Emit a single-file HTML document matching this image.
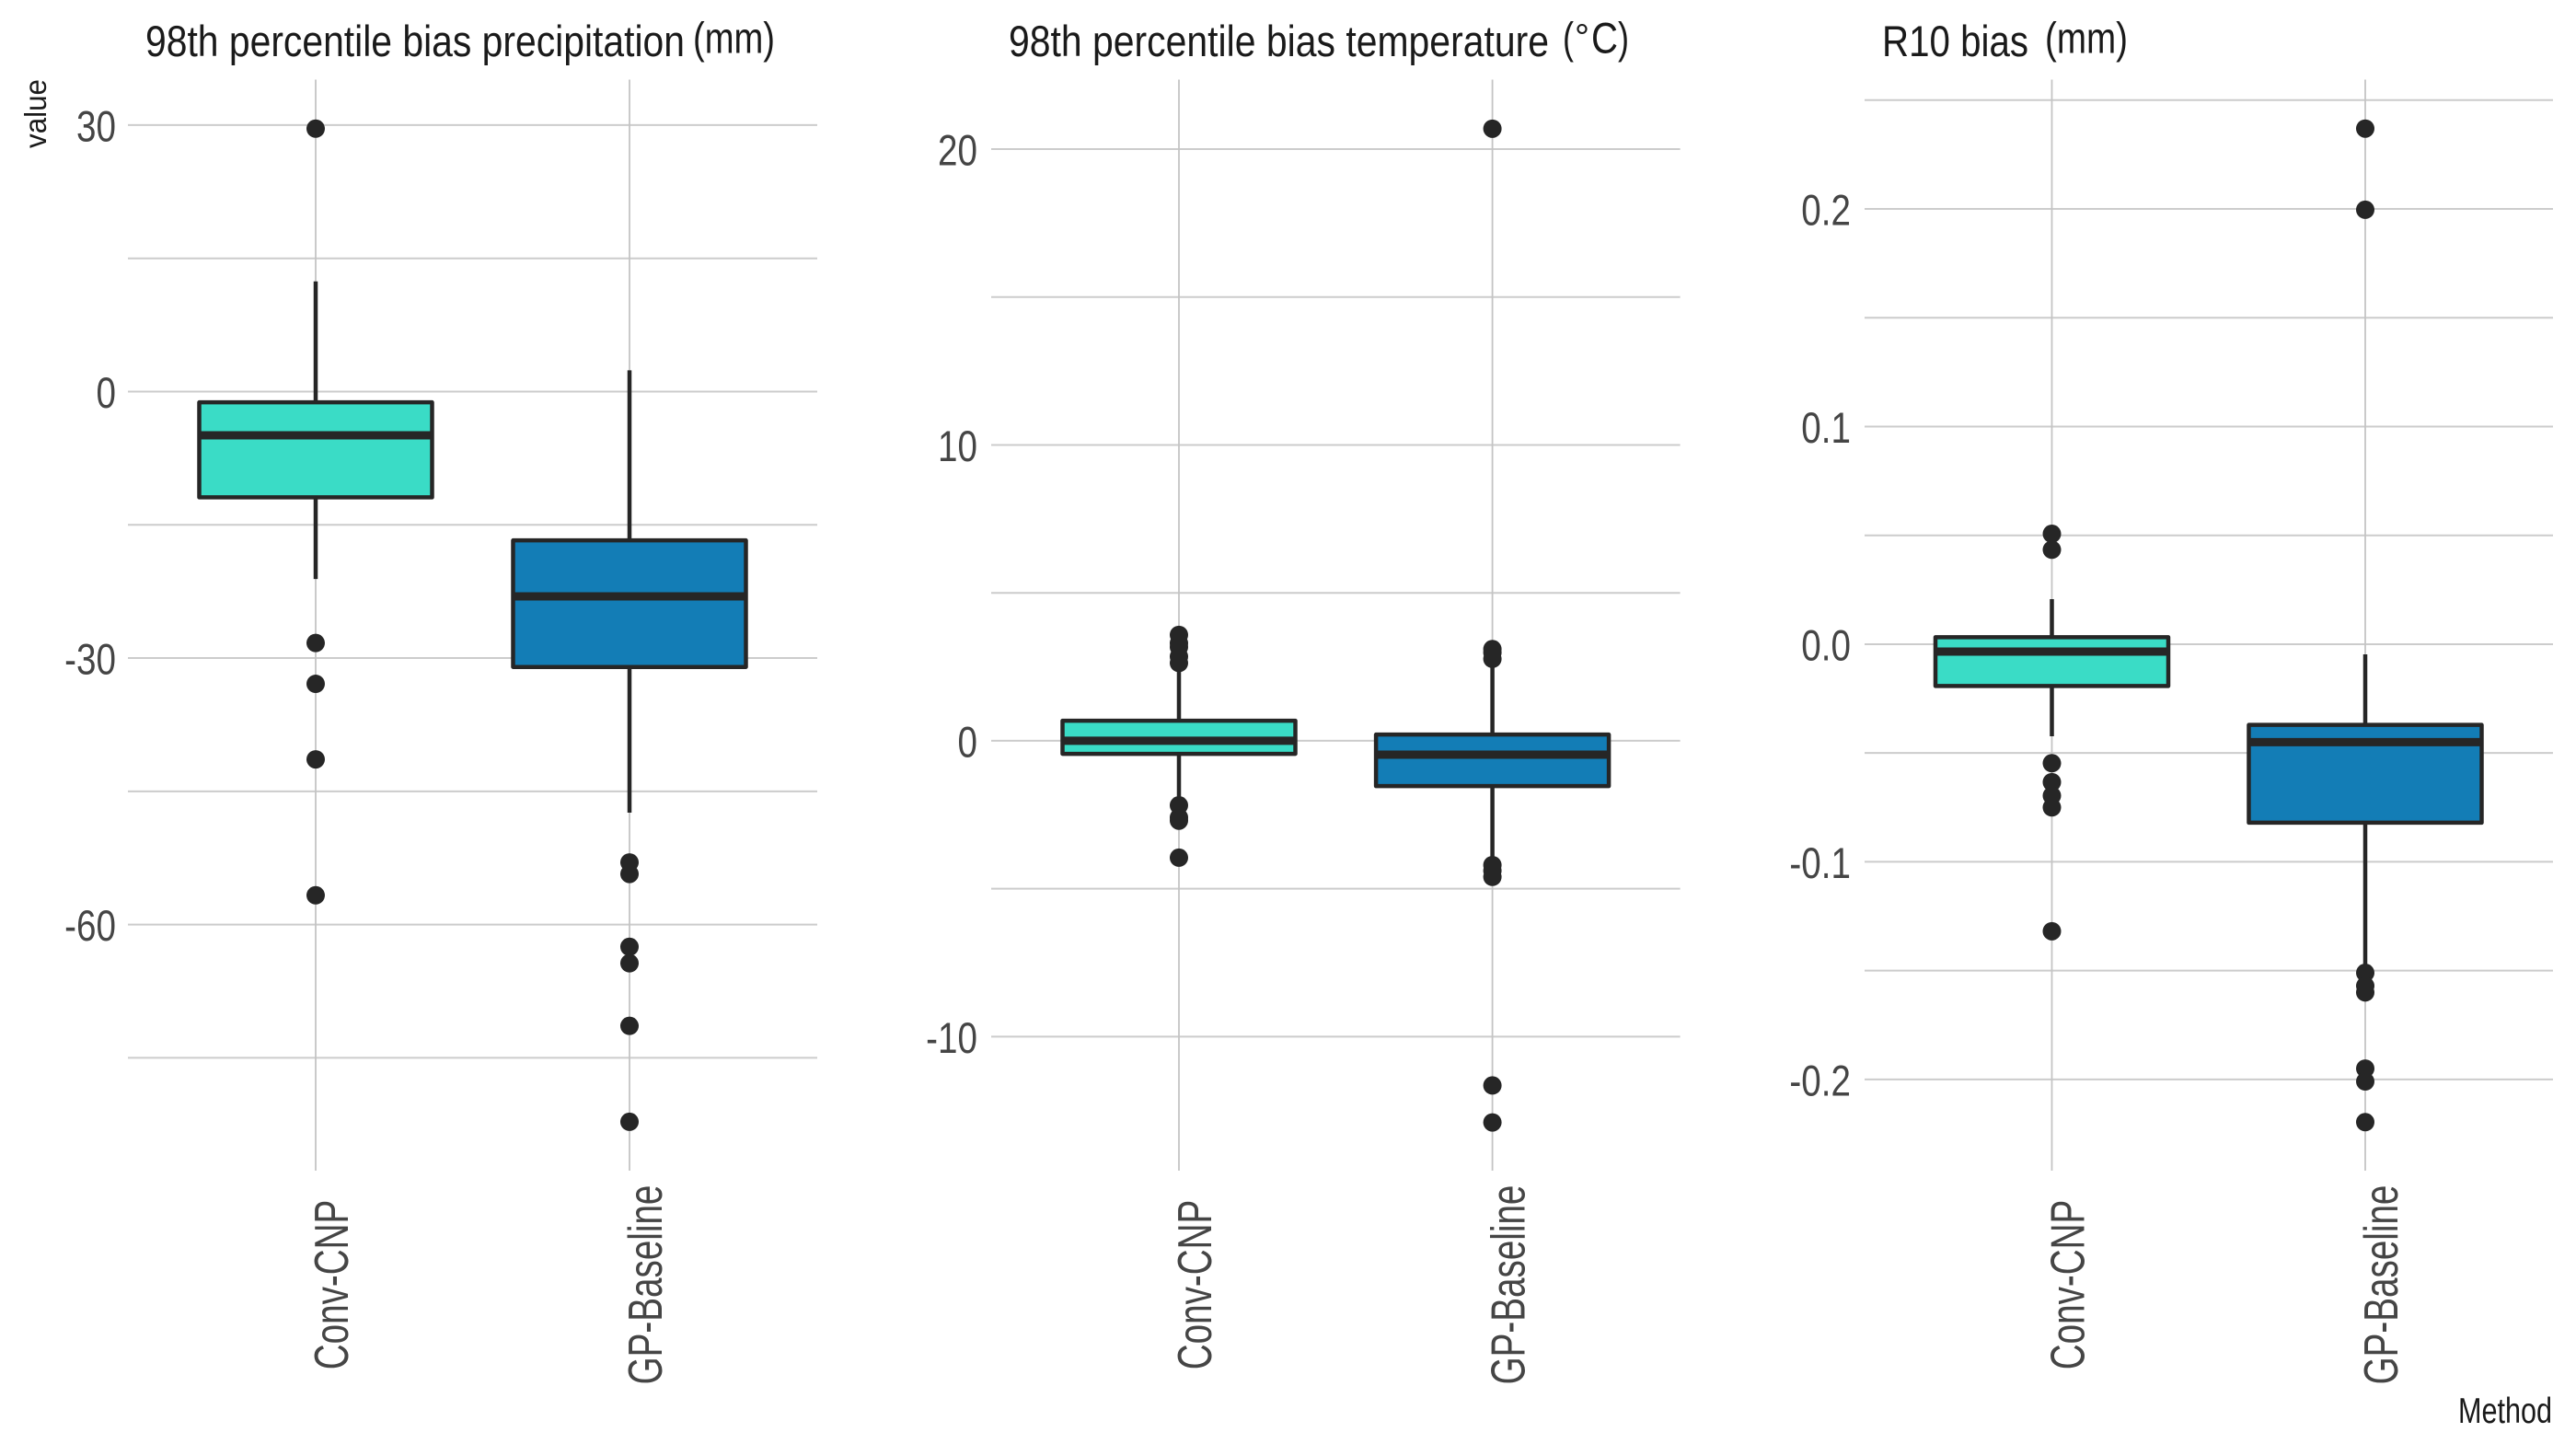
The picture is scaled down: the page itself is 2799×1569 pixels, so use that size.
<!DOCTYPE html>
<html lang="en">
<head>
<meta charset="utf-8">
<title>Bias boxplots: Conv-CNP vs GP-Baseline</title>
<style>
html,body{margin:0;padding:0;background:#fff;}
svg{display:block;font-family:"Liberation Sans",Arial,sans-serif;}
</style>
</head>
<body>
<svg id="chart" xmlns="http://www.w3.org/2000/svg" width="2799" height="1569" viewBox="0 0 2799 1569">
  <rect width="2799" height="1569" fill="#ffffff"/>
  <g id="panels"></g>
  <g font-size="47" fill="#1a1a1a">
    <text x="158" y="61" textLength="586" lengthAdjust="spacingAndGlyphs">98th percentile bias precipitation</text>
    <text x="753" y="57.5" textLength="89" lengthAdjust="spacingAndGlyphs">(mm)</text>
    <text x="1096" y="61" textLength="587" lengthAdjust="spacingAndGlyphs">98th percentile bias temperature</text>
    <text x="1698" y="57.5" textLength="12" lengthAdjust="spacingAndGlyphs">(</text>
    <text x="1711" y="54" font-size="40" textLength="16" lengthAdjust="spacingAndGlyphs">°</text>
    <text x="1729" y="57.5" textLength="29" lengthAdjust="spacingAndGlyphs">C</text>
    <text x="1758" y="57.5" textLength="12" lengthAdjust="spacingAndGlyphs">)</text>
    <text x="2045" y="61" textLength="159" lengthAdjust="spacingAndGlyphs">R10 bias</text>
    <text x="2222" y="57.5" textLength="90" lengthAdjust="spacingAndGlyphs">(mm)</text>
  </g>
  <text transform="translate(50,123.5) rotate(-90) scale(0.98,1.03)" font-size="32" text-anchor="middle" fill="#1a1a1a">value</text>
  <text x="2671" y="1546" font-size="39" textLength="102" lengthAdjust="spacingAndGlyphs" fill="#1a1a1a">Method</text>
</svg>
<script>
// ---- data: categories ----
const categories = ["Conv-CNP", "GP-Baseline"];

// ---- data: precipitation panel ----
const precipMajorTicks = [30, 0, -30, -60];
const precipMajorLabels = ["30", "0", "-30", "-60"];
const precipMinorTicks = [15, -15, -45, -75];
const precipYDomain = [-87.7, 35.12];
const precipConvBox = [-21.1, -11.9, -4.92, -1.21, 12.4];
const precipGpBox = [-47.4, -31.0, -23.05, -16.75, 2.4];
const precipConvOutliers = [29.6, -28.3, -32.9, -41.4, -56.7];
const precipGpOutliers = [-53.0, -54.3, -62.5, -64.35, -71.4, -82.2];

// ---- data: temperature panel ----
const tempMajorTicks = [20, 10, 0, -10];
const tempMajorLabels = ["20", "10", "0", "-10"];
const tempMinorTicks = [15, 5, -5];
const tempYDomain = [-14.53, 22.35];
const tempConvBox = [-2.15, -0.44, 0.0, 0.68, 2.6];
const tempGpBox = [-4.2, -1.53, -0.47, 0.21, 2.7];
const tempConvOutliers = [3.58, 3.3, 3.17, 2.85, 2.63, -2.18, -2.59, -2.7, -3.95];
const tempGpOutliers = [20.69, 3.1, 2.98, 2.77, -4.2, -4.39, -4.6, -11.65, -12.9];

// ---- data: R10 panel ----
const r10MajorTicks = [0.2, 0.1, 0.0, -0.1, -0.2];
const r10MajorLabels = ["0.2", "0.1", "0.0", "-0.1", "-0.2"];
const r10MinorTicks = [0.25, 0.15, 0.05, -0.05, -0.15];
const r10YDomain = [-0.2419, 0.2594];
const r10ConvBox = [-0.0423, -0.0192, -0.0034, 0.0032, 0.0207];
const r10GpBox = [-0.151, -0.082, -0.045, -0.0371, -0.0047];
const r10ConvOutliers = [0.0507, 0.0434, -0.0547, -0.0634, -0.0696, -0.075, -0.1319];
const r10GpOutliers = [0.2369, 0.1996, -0.151, -0.157, -0.16, -0.195, -0.2009, -0.2196];

// ---- layout and styling ----
const NS = "http://www.w3.org/2000/svg";
const plotTop = 86.5, plotBottom = 1272, boxWidth = 253;
const fills = ["#3adcc6", "#137db6"];
const ink = "#262626";

const panels = [
  { key: "precipitation", left: 139, right: 888, cats: [343, 684], labelRight: 126,
    domain: precipYDomain, major: precipMajorTicks, labels: precipMajorLabels, minor: precipMinorTicks,
    boxes: [precipConvBox, precipGpBox], outliers: [precipConvOutliers, precipGpOutliers] },
  { key: "temperature", left: 1077, right: 1825.6, cats: [1281, 1621.6], labelRight: 1062,
    domain: tempYDomain, major: tempMajorTicks, labels: tempMajorLabels, minor: tempMinorTicks,
    boxes: [tempConvBox, tempGpBox], outliers: [tempConvOutliers, tempGpOutliers] },
  { key: "r10", left: 2026, right: 2774, cats: [2229.5, 2570], labelRight: 2011,
    domain: r10YDomain, major: r10MajorTicks, labels: r10MajorLabels, minor: r10MinorTicks,
    boxes: [r10ConvBox, r10GpBox], outliers: [r10ConvOutliers, r10GpOutliers] }
];

function yScale(domain) {
  return function (v) {
    return plotBottom - (v - domain[0]) / (domain[1] - domain[0]) * (plotBottom - plotTop);
  };
}

function make(tag, parent, props) {
  const el = document.createElementNS(NS, tag);
  Object.keys(props).forEach(function (k) { el.setAttribute(k, props[k]); });
  parent.appendChild(el);
  return el;
}

const root = document.getElementById("panels");

panels.forEach(function (p) {
  const y = yScale(p.domain);

  const g = make("g", root, {});
  
  

  p.minor.concat(p.major).forEach(function (t) {
    const line = make("line", g, { x1: p.left, x2: p.right, y1: y(t), y2: y(t), stroke: "#cccccc", "stroke-width": 2 });
    
    
  });

  p.cats.forEach(function (cx) {
    const line = make("line", g, { x1: cx, x2: cx, y1: plotTop, y2: plotBottom, stroke: "#c4c4c4", "stroke-width": 1.8 });
    
    
  });

  p.major.forEach(function (t, i) {
    const label = make("text", g, {
      transform: "translate(" + p.labelRight + "," + (y(t) + 17.5) + ") scale(0.84,1.03)",
      "font-size": 46, "text-anchor": "end", fill: "#454545"
    });
    label.textContent = p.labels[i];
    
    
  });

  categories.forEach(function (cat, i) {
    const cx = p.cats[i];
    const s = p.boxes[i];

    const label = make("text", g, {
      transform: "translate(" + (cx + 35) + ",1396) rotate(-90) scale(0.84,1.12)",
      "font-size": 46, "text-anchor": "middle", fill: "#454545"
    });
    label.textContent = cat;
    
    

    const whisker = make("line", g, { x1: cx, x2: cx, y1: y(s[4]), y2: y(s[0]), stroke: ink, "stroke-width": 4.5 });
    
    

    const box = make("rect", g, {
      x: cx - boxWidth / 2, width: boxWidth, y: y(s[3]), height: y(s[1]) - y(s[3]),
      fill: fills[i], stroke: ink, "stroke-width": 4.5, "stroke-linejoin": "round"
    });
    
    

    const median = make("line", g, {
      x1: cx - boxWidth / 2, x2: cx + boxWidth / 2, y1: y(s[2]), y2: y(s[2]), stroke: ink, "stroke-width": 9
    });
    
    

    p.outliers[i].forEach(function (v) {
      const dot = make("circle", g, { cx: cx, cy: y(v), r: 10, fill: ink });
      
      
    });
  });
});
</script>
</body>
</html>
